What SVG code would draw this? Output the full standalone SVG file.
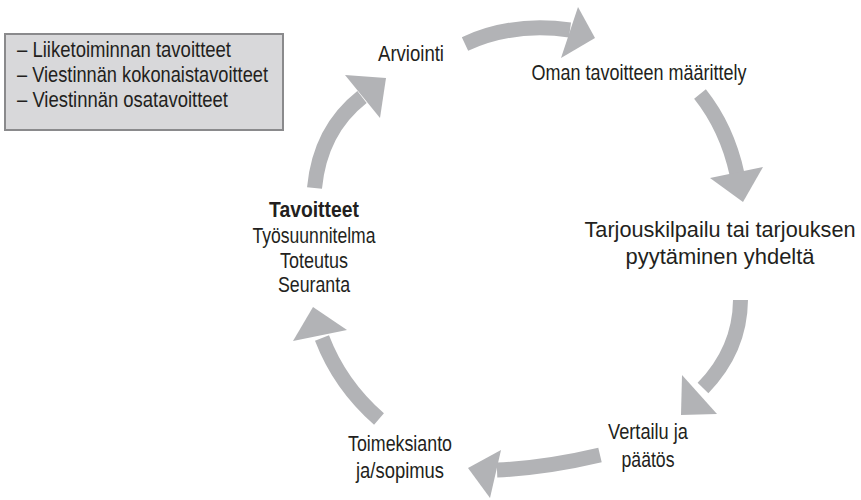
<svg xmlns="http://www.w3.org/2000/svg" width="861" height="500" viewBox="0 0 861 500">
<style>
text{font-family:"Liberation Sans",Arial,sans-serif;font-size:22px;fill:#231f20}
.c{text-anchor:middle}
.b{font-weight:bold}
.body{fill:none;stroke:#b2b3b6;stroke-width:15}
.head{fill:#b2b3b6}
</style>
<rect width="861" height="500" fill="#fff"/>
<g id="box">
<rect x="5" y="34" width="278" height="96" fill="#d8d8da" stroke="#8a8a8c" stroke-width="2"/>
<text x="17" y="57" textLength="214" lengthAdjust="spacingAndGlyphs">– Liiketoiminnan tavoitteet</text>
<text x="17" y="82" textLength="251" lengthAdjust="spacingAndGlyphs">– Viestinnän kokonaistavoitteet</text>
<text x="17" y="107" textLength="211" lengthAdjust="spacingAndGlyphs">– Viestinnän osatavoitteet</text>
</g>
<g id="arviointi"><text class="c" x="411" y="61" textLength="66" lengthAdjust="spacingAndGlyphs">Arviointi</text></g>
<g id="oman"><text class="c" x="639" y="80" textLength="215" lengthAdjust="spacingAndGlyphs">Oman tavoitteen määrittely</text></g>
<g id="tarjous">
<text class="c" x="720" y="237" textLength="271" lengthAdjust="spacingAndGlyphs">Tarjouskilpailu tai tarjouksen</text>
<text class="c" x="720" y="264" textLength="189" lengthAdjust="spacingAndGlyphs">pyytäminen yhdeltä</text>
</g>
<g id="vertailu">
<text class="c" x="648" y="439" textLength="80" lengthAdjust="spacingAndGlyphs">Vertailu ja</text>
<text class="c" x="648" y="467" textLength="53" lengthAdjust="spacingAndGlyphs">päätös</text>
</g>
<g id="toimeksianto">
<text class="c" x="400" y="451" textLength="104" lengthAdjust="spacingAndGlyphs">Toimeksianto</text>
<text class="c" x="400" y="478" textLength="88" lengthAdjust="spacingAndGlyphs">ja/sopimus</text>
</g>
<g id="tavoitteet">
<text class="c b" x="314" y="217" textLength="90" lengthAdjust="spacingAndGlyphs">Tavoitteet</text>
<text class="c" x="314" y="243" textLength="123" lengthAdjust="spacingAndGlyphs">Työsuunnitelma</text>
<text class="c" x="314" y="268" textLength="68" lengthAdjust="spacingAndGlyphs">Toteutus</text>
<text class="c" x="314" y="292" textLength="72" lengthAdjust="spacingAndGlyphs">Seuranta</text>
</g>
<g id="connectors">
<path class="body" d="M465,44 Q512,22 570,30"/>
<polygon class="head" points="578,7 595,38 561,58"/>
<path class="body" d="M700,94 Q727,128 737,174"/>
<polygon class="head" points="710,178 743,202 763,167"/>
<path class="body" d="M740.5,300 Q740,350 703,388"/>
<polygon class="head" points="682,375 681,415 717,414"/>
<path class="body" d="M600,455 Q545,468 497,470"/>
<polygon class="head" points="501,450 468,468 490,498"/>
<path class="body" d="M379,419 Q340,385 322,338"/>
<polygon class="head" points="293,341 313,307 347,330"/>
<path class="body" d="M314.5,188 Q320,130 362,97"/>
<polygon class="head" points="345,75 386,78 380,118"/>
</g>
</svg>
